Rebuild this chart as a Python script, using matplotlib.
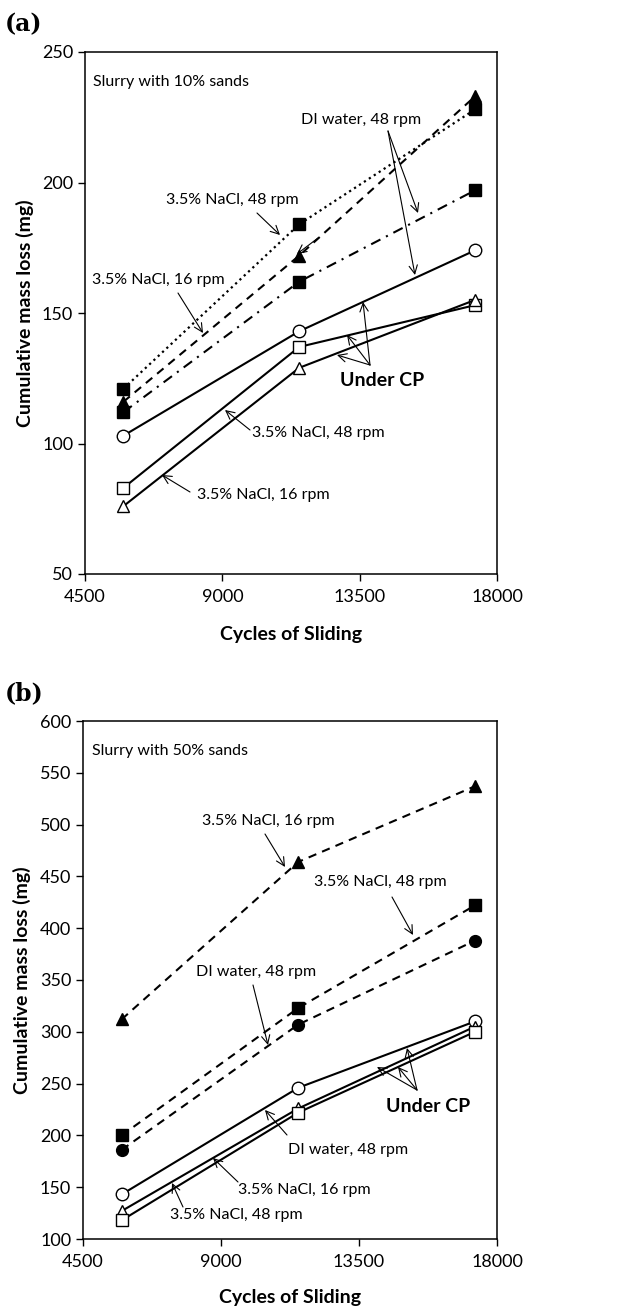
import numpy as np
import matplotlib.pyplot as plt
from matplotlib.patches import FancyArrowPatch

plt.rcParams['font.family'] = ['Lato', 'DejaVu Sans']

# cycles of sliding
ciclos = [5760, 11520, 17280]

# panel (a) - slurry with 10% sands
a_nacl16 = [116, 172, 233]
a_nacl48 = [121, 184, 228]
a_di48 = [112, 162, 197]
a_di48_cp = [103, 143, 174]
a_nacl48_cp = [83, 137, 153]
a_nacl16_cp = [76, 129, 155]

# panel (b) - slurry with 50% sands
b_nacl16 = [312, 464, 537]
b_nacl48 = [200, 323, 422]
b_di48 = [186, 307, 388]
b_di48_cp = [143, 246, 310]
b_nacl16_cp = [127, 226, 305]
b_nacl48_cp = [118, 222, 300]

xticks = [4500, 9000, 13500, 18000]
a_yticks = [50, 100, 150, 200, 250]
b_yticks = [100, 150, 200, 250, 300, 350, 400, 450, 500, 550, 600]

W, H = 633, 1315
fig = plt.figure(figsize=(W / 100, H / 100), dpi=100)


def px(x, y):
    # posicion en pixeles -> fraccion de figura
    return (x / W, 1 - y / H)


def axes_en_px(l, t, r, b):
    return fig.add_axes([l / W, 1 - b / H, (r - l) / W, (b - t) / H])


def etiqueta(texto, xy, bold=False, size=11.5, ha='center'):
    fig.text(*px(*xy), texto, ha=ha, va='center', fontsize=size,
             fontweight='bold' if bold else 'normal')


def flecha(desde, hasta):
    fig.add_artist(FancyArrowPatch(
        px(*desde), px(*hasta), transform=fig.transFigure,
        arrowstyle='->,head_length=6,head_width=3', lw=0.8, color='black',
        shrinkA=0, shrinkB=0))


def estilo(ax, yticks, y_xlabel):
    ax.set_xlim(4500, 18000)
    ax.set_ylim(yticks[0], yticks[-1])
    ax.set_xticks(xticks)
    ax.set_yticks(yticks)
    ax.tick_params(direction='out', length=5, width=1, labelsize=13,
                   top=False, right=False)
    ax.tick_params(axis='x', pad=6)
    for s in ax.spines.values():
        s.set_linewidth(1.1)
    ax.set_xlabel('Cycles of Sliding', fontsize=14, fontweight='bold')
    ax.xaxis.label.set_va('center')
    ax.xaxis.set_label_coords(0.5, y_xlabel)
    ax.set_ylabel('Cumulative mass loss (mg)', fontsize=14, fontweight='bold', labelpad=6)


lw = 1.5
dash = (0, (4, 3))

# ---------- (a) ----------
ax1 = axes_en_px(85, 52, 497, 574)
ax1.plot(ciclos, a_nacl48, ':', color='black', lw=1.6, marker='s', ms=8.5, mfc='black')
ax1.plot(ciclos, a_nacl16, color='black', lw=lw, ls=dash, marker='^', ms=9, mfc='black')
ax1.plot(ciclos, a_di48, color='black', lw=lw, ls=(0, (5, 3, 1, 3)), marker='s', ms=8.5, mfc='black')
ax1.plot(ciclos, a_di48_cp, '-', color='black', lw=lw, marker='o', ms=9, mfc='white')
ax1.plot(ciclos, a_nacl48_cp, '-', color='black', lw=lw, marker='s', ms=8.5, mfc='white')
ax1.plot(ciclos, a_nacl16_cp, '-', color='black', lw=lw, marker='^', ms=9, mfc='white')
estilo(ax1, a_yticks, -0.115)

fig.text(*px(5, 24), '(a)', fontsize=17, fontweight='bold', family='DejaVu Serif', va='center')
etiqueta('Slurry with 10% sands', (93, 82), ha='left')

etiqueta('DI water, 48 rpm', (361, 120))
flecha((388, 131), (418, 213))
flecha((388, 131), (415, 275))
etiqueta('3.5% NaCl, 48 rpm', (232, 200))
flecha((257, 213), (280, 235))
etiqueta('3.5% NaCl, 16 rpm', (158, 280))
flecha((178, 293), (203, 333))
flecha((318, 238), (297, 254))
etiqueta('Under CP', (382, 380), bold=True, size=14)
flecha((370, 365), (363, 302))
flecha((370, 365), (347, 335))
flecha((370, 365), (337, 355))
etiqueta('3.5% NaCl, 48 rpm', (252, 433), ha='left')
flecha((250, 430), (225, 410))
etiqueta('3.5% NaCl, 16 rpm', (197, 495), ha='left')
flecha((190, 492), (162, 475))

# ---------- (b) ----------
ax2 = axes_en_px(83, 721, 497, 1239)
ax2.plot(ciclos, b_nacl16, color='black', lw=lw, ls=dash, marker='^', ms=9, mfc='black')
ax2.plot(ciclos, b_nacl48, color='black', lw=lw, ls=dash, marker='s', ms=8.5, mfc='black')
ax2.plot(ciclos, b_di48, color='black', lw=lw, ls=dash, marker='o', ms=8.5, mfc='black')
ax2.plot(ciclos, b_di48_cp, '-', color='black', lw=lw, marker='o', ms=9, mfc='white')
ax2.plot(ciclos, b_nacl16_cp, '-', color='black', lw=lw, marker='^', ms=9, mfc='white')
ax2.plot(ciclos, b_nacl48_cp, '-', color='black', lw=lw, marker='s', ms=8.5, mfc='white')
estilo(ax2, b_yticks, -0.112)

fig.text(*px(5, 693), '(b)', fontsize=17, fontweight='bold', family='DejaVu Serif', va='center')
etiqueta('Slurry with 50% sands', (92, 751), ha='left')

etiqueta('3.5% NaCl, 16 rpm', (268, 821))
flecha((265, 834), (285, 867))
etiqueta('3.5% NaCl, 48 rpm', (380, 882))
flecha((392, 897), (413, 935))
etiqueta('DI water, 48 rpm', (256, 972))
flecha((253, 985), (268, 1045))
etiqueta('Under CP', (428, 1107), bold=True, size=14)
flecha((417, 1090), (407, 1048))
flecha((417, 1090), (398, 1067))
flecha((417, 1090), (377, 1067))
etiqueta('DI water, 48 rpm', (288, 1150), ha='left')
flecha((287, 1135), (265, 1110))
etiqueta('3.5% NaCl, 16 rpm', (238, 1190), ha='left')
flecha((238, 1182), (213, 1158))
etiqueta('3.5% NaCl, 48 rpm', (170, 1215), ha='left')
flecha((183, 1207), (172, 1183))

fig.savefig('out.png', dpi=100)
